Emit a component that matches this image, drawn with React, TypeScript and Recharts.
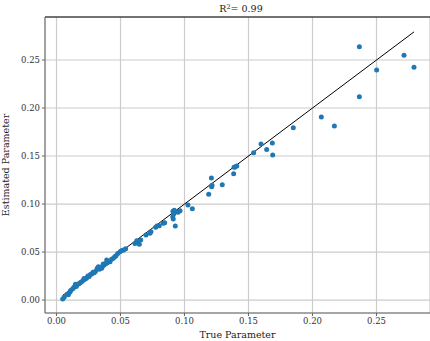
import { CartesianGrid, Label, ReferenceLine, Scatter, ScatterChart, XAxis, YAxis } from "recharts";

const trueParam = [
  0.2366, 0.2715, 0.2501, 0.2793, 0.2366, 0.2069, 0.2171, 0.185, 0.1598, 0.1686,
  0.1642, 0.1689, 0.154, 0.1387, 0.1408, 0.1395, 0.1384, 0.121, 0.1212, 0.1215,
  0.1295, 0.1189, 0.1027, 0.1061, 0.091, 0.092, 0.0935, 0.095, 0.0965, 0.0908,
  0.0912, 0.0928, 0.0915, 0.0834, 0.0845, 0.0803, 0.0775, 0.0785, 0.073, 0.0738,
  0.0699, 0.0658, 0.0627, 0.0647, 0.0613, 0.054, 0.0525, 0.051, 0.0496, 0.0478,
  0.0465, 0.0455, 0.0444, 0.043, 0.0418, 0.04, 0.0392, 0.0385, 0.0372, 0.036,
  0.0353, 0.0335, 0.0327, 0.0318, 0.0305, 0.0295, 0.0285, 0.0275, 0.0265, 0.0255,
  0.0245, 0.0235, 0.0225, 0.021, 0.0195, 0.0185, 0.0175, 0.0165, 0.0155, 0.0145,
  0.0135, 0.0125, 0.011, 0.0105, 0.0095, 0.0085, 0.006, 0.0048, 0.0365, 0.0215,
  0.0148, 0.0395, 0.0092,
];

const estParam = [
  0.2639, 0.2549, 0.2396, 0.2424, 0.2118, 0.1906, 0.1813, 0.1795, 0.1625, 0.1635,
  0.1569, 0.151, 0.1535, 0.1382, 0.1396, 0.1385, 0.1316, 0.1271, 0.1181, 0.1195,
  0.1201, 0.1101, 0.099, 0.0951, 0.0925, 0.0935, 0.092, 0.0915, 0.093, 0.0868,
  0.0845, 0.0771, 0.0895, 0.0799, 0.0805, 0.0774, 0.0757, 0.077, 0.0695, 0.071,
  0.0677, 0.0625, 0.0618, 0.058, 0.059, 0.0535, 0.052, 0.0515, 0.0503, 0.0485,
  0.046, 0.045, 0.0434, 0.0425, 0.0399, 0.0395, 0.0417, 0.038, 0.0365, 0.0355,
  0.033, 0.032, 0.0347, 0.033, 0.03, 0.0285, 0.029, 0.027, 0.0265, 0.0245,
  0.025, 0.023, 0.022, 0.0205, 0.019, 0.018, 0.017, 0.0165, 0.014, 0.015,
  0.013, 0.0115, 0.01, 0.0085, 0.007, 0.006, 0.003, 0.001, 0.0375, 0.0225,
  0.0165, 0.0385, 0.0055,
];

const xTicks = [0, 0.05, 0.1, 0.15, 0.2, 0.25];
const yTicks = [0, 0.05, 0.1, 0.15, 0.2, 0.25];

const points = trueParam.map((t, i) => ({ t, e: estParam[i] }));
const lo = Math.min(...trueParam);
const hi = Math.max(...trueParam);

const X_DOMAIN: [number, number] = [-0.009, 0.2918];
const Y_DOMAIN: [number, number] = [-0.0135, 0.2948];
const FONT = "'DejaVu Serif', serif";

export default function App() {
  return (
    <div style={{ position: "absolute", left: 0, top: 0, width: 430, height: 341, background: "#fff" }}>
      <div
        style={{
          position: "absolute",
          left: 0,
          width: 482,
          top: 3,
          textAlign: "center",
          fontFamily: FONT,
          fontSize: 9.5,
          color: "#222",
        }}
      >
        R<sup style={{ fontSize: 6.5, verticalAlign: "3px", lineHeight: 0 }}>2</sup>= 0.99
      </div>
      <ScatterChart width={430} height={341} margin={{ top: 17, right: 0, bottom: 0, left: 0 }}>
        <CartesianGrid stroke="#cccccc" strokeWidth={1.2} />
        <XAxis
          type="number"
          dataKey="t"
          domain={X_DOMAIN}
          ticks={xTicks}
          allowDataOverflow
          height={28}
          stroke="#666"
          tickSize={3}
          tick={{ fontSize: 8.5, fontFamily: FONT, fill: "#333" }}
          tickFormatter={(v: number) => v.toFixed(2)}
        >
          <Label value="True Parameter" position="insideBottom" offset={3} style={{ fontSize: 9.5, fontFamily: FONT, fill: "#222" }} />
        </XAxis>
        <YAxis
          type="number"
          dataKey="e"
          domain={Y_DOMAIN}
          ticks={yTicks}
          allowDataOverflow
          width={45}
          stroke="#666"
          tickSize={3}
          tick={{ fontSize: 8.5, fontFamily: FONT, fill: "#333" }}
          tickFormatter={(v: number) => v.toFixed(2)}
        >
          <Label
            value="Estimated Parameter"
            angle={-90}
            position="insideLeft"
            offset={6}
            style={{ fontSize: 9.5, fontFamily: FONT, fill: "#222", textAnchor: "middle" }}
          />
        </YAxis>
        <ReferenceLine y={Y_DOMAIN[1]} stroke="#000" strokeWidth={1.2} ifOverflow="visible" />
        <Scatter
          data={points}
          fill="#1f77b4"
          isAnimationActive={false}
          shape={(p: any) => <circle cx={p.cx} cy={p.cy} r={2.5} fill="#1f77b4" />}
        />
        <ReferenceLine
          segment={[
            { x: lo, y: lo },
            { x: hi, y: hi },
          ]}
          stroke="#000"
          strokeWidth={1}
          ifOverflow="visible"
        />
      </ScatterChart>
    </div>
  );
}
